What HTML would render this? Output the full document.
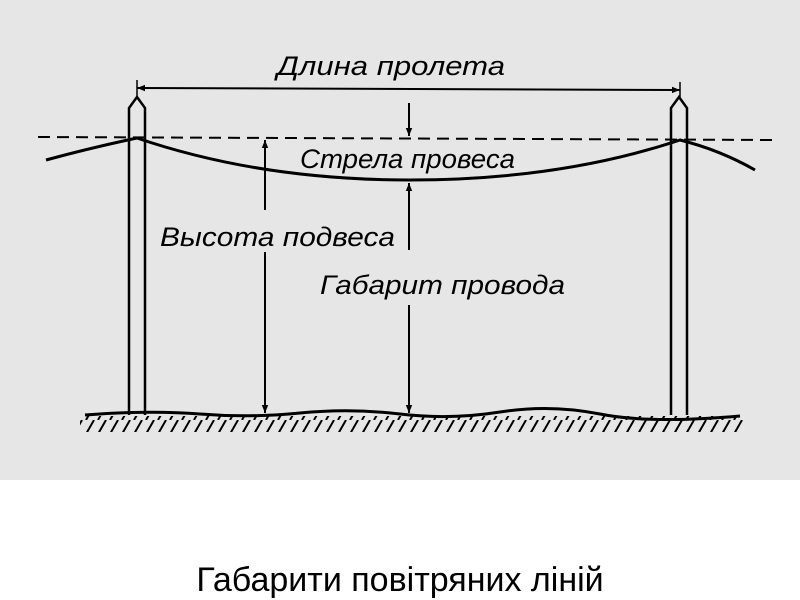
<!DOCTYPE html>
<html><head><meta charset="utf-8"><style>
body{margin:0;width:800px;height:600px;background:#fff;overflow:hidden;position:relative}
svg{position:absolute;left:0;top:0}
.cap{position:absolute;left:0;width:800px;top:560px;text-align:center;font:34px/40px "Liberation Sans",sans-serif;color:#000}
</style></head><body>
<svg width="800" height="600" viewBox="0 0 800 600">
<defs>
<marker id="a" viewBox="0 0 10 10" refX="10" refY="5" markerWidth="8" markerHeight="12" orient="auto-start-reverse" markerUnits="userSpaceOnUse"><path d="M0,1 L10,5 L0,9 Z" fill="#000"/></marker>
<pattern id="h" width="12" height="14" patternUnits="userSpaceOnUse"><path d="M10,0 L2,14" stroke="#000" stroke-width="2"/></pattern>
</defs>
<rect x="0" y="0" width="800" height="480" fill="#e6e6e6"/>
<g stroke="#000" fill="none" stroke-width="2.5">
<line x1="38" y1="137" x2="775" y2="140" stroke-dasharray="12,7" stroke-width="2"/>
<path d="M129,415 V108 L137,97 L145,108 V415" />
<path d="M671,415 V108 L679,97 L687,108 V415" />
<path d="M46,160 Q90,148 137,138 Q260,180 410,180 Q560,180 680,140 Q720,150 755,170" stroke-width="3"/>
<line x1="137" y1="88" x2="680" y2="90" stroke-width="2" marker-start="url(#a)" marker-end="url(#a)"/>
<line x1="137" y1="80" x2="137" y2="97" stroke-width="1.5"/>
<line x1="680" y1="82" x2="680" y2="97" stroke-width="1.5"/>
<line x1="409" y1="103" x2="409" y2="136" stroke-width="2" marker-end="url(#a)"/>
<line x1="409" y1="250" x2="409" y2="183" stroke-width="2" marker-end="url(#a)"/>
<line x1="409" y1="305" x2="409" y2="413" stroke-width="2" marker-end="url(#a)"/>
<line x1="265" y1="210" x2="265" y2="140" stroke-width="2" marker-end="url(#a)"/>
<line x1="265" y1="252" x2="265" y2="413" stroke-width="2" marker-end="url(#a)"/>
<path d="M85,415 Q150,410 200,414 T300,413 T400,414 T500,412 T600,414 T740,416" stroke-width="3"/>
</g>
<rect x="80" y="416" width="665" height="16" fill="url(#h)"/>
<g font-family="Liberation Sans,sans-serif" font-style="italic" font-size="27" fill="#000">
<text x="277" y="75" textLength="228" lengthAdjust="spacingAndGlyphs">Длина пролета</text>
<text x="300" y="168" textLength="215" lengthAdjust="spacingAndGlyphs">Стрела провеса</text>
<text x="160" y="246" textLength="235" lengthAdjust="spacingAndGlyphs">Высота подвеса</text>
<text x="320" y="294" textLength="245" lengthAdjust="spacingAndGlyphs">Габарит провода</text>
</g>
</svg>
<div class="cap">Габарити повітряних ліній</div>
</body></html>
